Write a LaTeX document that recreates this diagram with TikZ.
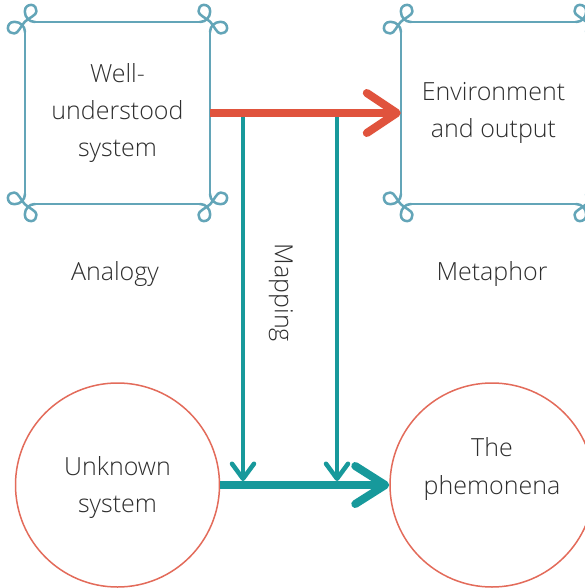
\documentclass[tikz,border=0pt]{standalone}
\usepackage{fontspec}
\setmainfont{Open Sans}[UprightFont={* Light}]
\usetikzlibrary{arrows.meta}
\definecolor{boxc}{HTML}{63A5B8}
\definecolor{redc}{HTML}{E0533D}
\definecolor{tealc}{HTML}{17999B}
\definecolor{circc}{HTML}{E36B5A}
\definecolor{txtc}{HTML}{2E2E2E}
\newcommand{\curlcorner}[3]{%
  \draw[boxline,shift={#1},xscale=#2,yscale=#3,scale=1.3]
    (8,0) -- (7,0) .. controls (4,0) and (0,-3) .. (0,-8)
    .. controls (0,-12) and (3,-13) .. (5,-13)
    .. controls (8,-13) and (9,-10) .. (9,-8)
    .. controls (9,-5) and (3,-3) .. (0,0)
    .. controls (-3,3) and (-5,9) .. (-8,9)
    .. controls (-10,9) and (-13,8) .. (-13,5)
    .. controls (-13,3) and (-12,0) .. (-8,0)
    .. controls (-3,0) and (0,4) .. (0,7) -- (0,8);}
\newcommand{\curlbox}[1]{%
  \draw[boxline] ([xshift=9pt]#1.north west) -- ([xshift=-9pt]#1.north east);
  \draw[boxline] ([xshift=9pt]#1.south west) -- ([xshift=-9pt]#1.south east);
  \draw[boxline] ([yshift=-9pt]#1.north west) -- ([yshift=9pt]#1.south west);
  \draw[boxline] ([yshift=-9pt]#1.north east) -- ([yshift=9pt]#1.south east);
  \curlcorner{(#1.north west)}{1}{1}
  \curlcorner{(#1.north east)}{-1}{1}
  \curlcorner{(#1.south west)}{1}{-1}
  \curlcorner{(#1.south east)}{-1}{-1}}
\begin{document}
\begin{tikzpicture}[x=1pt,y=-1pt,
  boxline/.style={draw=boxc,line width=2.5pt,line cap=round,line join=round},
  sbox/.style={rectangle,minimum width=185pt,minimum height=182pt,inner sep=0pt,align=center,text=txtc,font=\fontsize{25}{37}\selectfont},
  circ/.style={circle,draw=circc,line width=1.5pt,minimum size=204pt,inner sep=0pt},
  lbl/.style={text=txtc,font=\fontsize{25}{37}\selectfont,align=center,inner sep=0pt},
  redarrow/.style={draw=redc,line width=8pt,-{Straight Barb[length=30pt,width=40pt,round]}},
  tealarrow/.style={draw=tealc,line width=8pt,-{Straight Barb[length=30pt,width=38pt,round]}},
  mapline/.style={draw=tealc,line width=4.5pt,-{Straight Barb[length=15pt,width=22pt,round]}}]
\useasboundingbox (0,0) rectangle (584,588);
\fill[white] (0,0) rectangle (584,588);
% boxes
\node[sbox] (wu) at (117.5,113) {Well-\\understood\\system};
\node[sbox] (env) at (493.5,113) {Environment\\and output};
\curlbox{wu}
\curlbox{env}
% circles
\node[circ] (unk) at (117.5,485) {};
\node[lbl] (unkt) at (117.5,487) {Unknown\\system};
\node[circ] (phe) at (492,485) {};
\node[lbl] (phet) at (492,469) {The\\phemonena};
% labels
\node[lbl,anchor=base] (ana) at (115,280) {Analogy};
\node[lbl,anchor=base] (met) at (492,280) {Metaphor};
\node[lbl,rotate=-90] (map) at (281,293) {Mapping};
% mapping lines
\coordinate (m1) at (243,113);
\coordinate (m2) at (337,113);
\coordinate (b1) at (243,481);
\coordinate (b2) at (337,481);
\draw[mapline] (m1) -- (b1);
\draw[mapline] (m2) -- (b2);
% main arrows
\draw[redarrow] (wu.east) -- (env.west);
\draw[tealarrow] (unk.east) -- (phe.west);
\end{tikzpicture}
\end{document}
